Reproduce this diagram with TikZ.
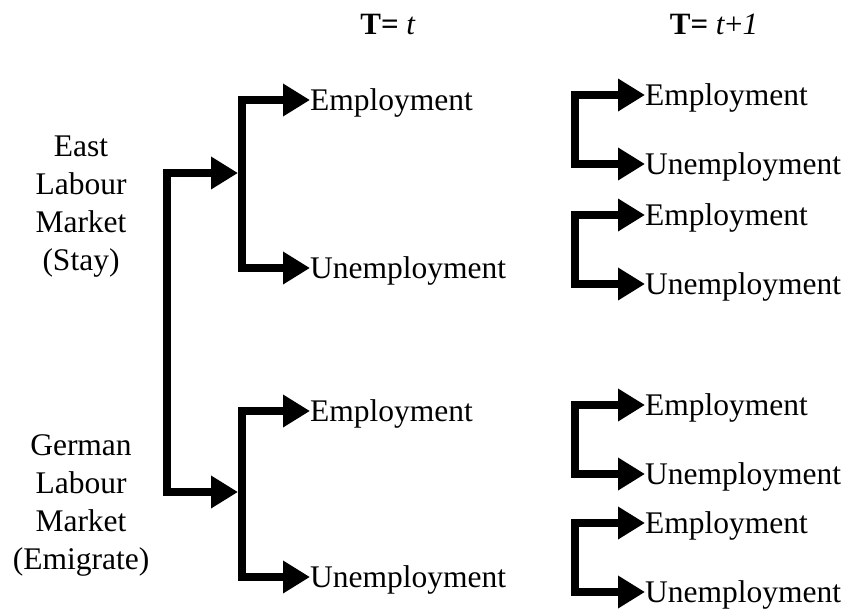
\documentclass[tikz,border=0pt]{standalone}
\usepackage{fontspec}
\setmainfont{Liberation Serif}
\usepackage{tikz}
\usetikzlibrary{arrows.meta}

\tikzset{
	branch/.style={line width=7.5pt, {Triangle[length=27pt,width=31pt]}-{Triangle[length=27pt,width=31pt]}},
	state/.style={anchor=west, inner sep=0pt, text height=20.5pt, text depth=0pt, font=\fontsize{31.5}{38}\selectfont},
	market/.style={align=center, inner sep=0pt, font=\fontsize{31.5}{38}\selectfont},
	period/.style={anchor=base, inner sep=0pt, font=\fontsize{31}{38}\selectfont}
}

\begin{document}
\begin{tikzpicture}[x=1pt, y=-1pt]
		\useasboundingbox (0,0) rectangle (848,610);
		\node[period] (tnow) at (388,35) {\textbf{T=} \textit{t}};
		\node[period] (tnext) at (714,35) {\textbf{T=} \textit{t}+\textit{1}};
		\node[market] (east) at (81,207) {East\\Labour\\Market\\(Stay)};
		\node[market] (german) at (81,505) {German\\Labour\\Market\\(Emigrate)};
		\coordinate (stay) at (238,173);
		\coordinate (emig) at (238,492);
		\draw[branch] (stay) -- ++(-71,0) |- (emig);
		\foreach \n/\y/\d in {A/100/168, B/411/166} {
			\node[state] (emp\n) at (310,\y) {Employment};
			\node[state] (unemp\n) at (310,\y+\d) {Unemployment};
			\draw[branch] (emp\n.west) -- ++(-68,0) |- (unemp\n.west);
		}
		\foreach \n/\y in {a/95, b/215, c/405, d/523} {
			\node[state] (emp\n) at (645,\y) {Employment};
			\node[state] (unemp\n) at (645,\y+69) {Unemployment};
			\draw[branch] (emp\n.west) -- ++(-70,0) |- (unemp\n.west);
		}
	\end{tikzpicture}
\end{document}
